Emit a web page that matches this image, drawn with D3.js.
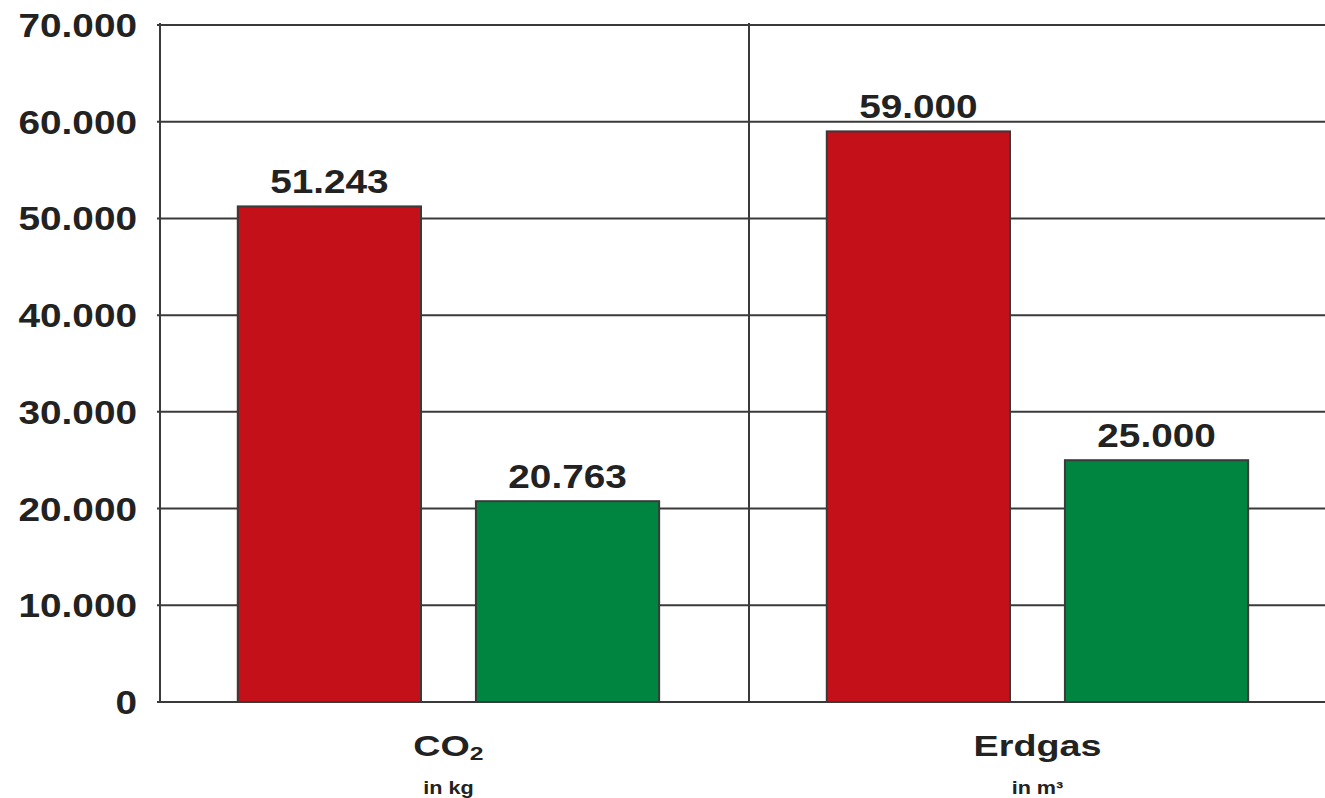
<!DOCTYPE html>
<html>
<head>
<meta charset="utf-8">
<script src="https://cdn.jsdelivr.net/npm/d3@7"></script>
<style>
	body { margin: 0; background: #fff; }
	text { font-family: "Liberation Sans", Arial, sans-serif; font-weight: bold; fill: #222; }
</style>
</head>
<body>
<svg id="chart" width="1325" height="798"></svg>
<script>
// data
var categories = ['CO2', 'Erdgas'];
var units = ['in kg', 'in m³'];
var seriesRed = [51243, 59000];
var seriesGreen = [20763, 25000];
var yTicks = [0, 10000, 20000, 30000, 40000, 50000, 60000, 70000];
var yTickLabels = ['0', '10.000', '20.000', '30.000', '40.000', '50.000', '60.000', '70.000'];
var valueLabels = [['51.243', '20.763'], ['59.000', '25.000']];

var colors = ['#c41119', '#008540'];
var lineColor = '#3a3a3a';

var svg = d3.select('#chart');

// plot area (right side runs past the window edge, like the original)
var plotLeft = 160, plotRight = 1338, plotTop = 25, plotBottom = 702;

var y = d3.scaleLinear().domain([0, 70000]).range([plotBottom, plotTop]);
var x0 = d3.scaleBand().domain(categories).range([plotLeft, plotRight]).padding(0);
var x1 = d3.scaleBand().domain([0, 1]).range([0, x0.bandwidth()])
	.paddingInner(0.2306).paddingOuter(0.352).align(0.464);

// gridlines (also the baseline)
svg.append('g').selectAll('line')
	.data(yTicks)
	.enter().append('line')
	.attr('x1', plotLeft - 3)
	.attr('x2', plotRight)
	.attr('y1', function(d) { return y(d); })
	.attr('y2', function(d) { return y(d); })
	.style('stroke', lineColor)
	.style('stroke-width', 2);

// y axis line + divider between groups
svg.append('g').selectAll('line')
	.data([plotLeft, x0('Erdgas')])
	.enter().append('line')
	.attr('x1', function(d) { return d; })
	.attr('x2', function(d) { return d; })
	.attr('y1', plotTop - 2)
	.attr('y2', plotBottom)
	.style('stroke', lineColor)
	.style('stroke-width', 2);

// y tick labels, stretched a bit horizontally like the original
svg.append('g').selectAll('text')
	.data(yTicks)
	.enter().append('text')
	.attr('transform', function(d) { return 'translate(137,' + (y(d) + 12) + ') scale(1.14,1)'; })
	.attr('text-anchor', 'end')
	.style('font-size', '34px')
	.text(function(d, i) { return yTickLabels[i]; });

// bars
var rows = [];
categories.forEach(function(c, i) {
	rows.push({cat: c, s: 0, v: seriesRed[i], label: valueLabels[i][0]});
	rows.push({cat: c, s: 1, v: seriesGreen[i], label: valueLabels[i][1]});
});

var bars = svg.append('g');
bars.selectAll('rect')
	.data(rows)
	.enter().append('rect')
	.attr('x', function(d) { return x0(d.cat) + x1(d.s); })
	.attr('y', function(d) { return y(d.v); })
	.attr('width', x1.bandwidth())
	.attr('height', function(d) { return y(0) - y(d.v); })
	.style('fill', function(d) { return colors[d.s]; })
	.style('stroke', lineColor)
	.style('stroke-width', 2);

// value labels above bars
bars.selectAll('text')
	.data(rows)
	.enter().append('text')
	.attr('transform', function(d) {
		return 'translate(' + (x0(d.cat) + x1(d.s) + x1.bandwidth() / 2) + ',' + (y(d.v) - 13) + ') scale(1.14,1)';
	})
	.attr('text-anchor', 'middle')
	.style('font-size', '34px')
	.text(function(d) { return d.label; });

// category labels, centred under each pair of bars
var cats = svg.append('g').selectAll('g')
	.data(categories)
	.enter().append('g')
	.attr('transform', function(d) {
		var mid = x0(d) + x1(0) + (x1(1) + x1.bandwidth() - x1(0)) / 2;
		return 'translate(' + mid + ',0)';
	});

var catText = cats.append('text')
	.attr('transform', 'translate(0,756) scale(1.3,1)')
	.attr('text-anchor', 'middle')
	.style('font-size', '29px');
catText.each(function(d) {
	var t = d3.select(this);
	if (d === 'CO2') {
		t.append('tspan').text('CO');
		t.append('tspan').attr('dy', 4).style('font-size', '19px').text('2');
	} else {
		t.text(d);
	}
});

cats.append('text')
	.attr('transform', 'translate(0,794) scale(1.2,1)')
	.attr('text-anchor', 'middle')
	.style('font-size', '18px')
	.text(function(d, i) { return units[i]; });
</script>
</body>
</html>
